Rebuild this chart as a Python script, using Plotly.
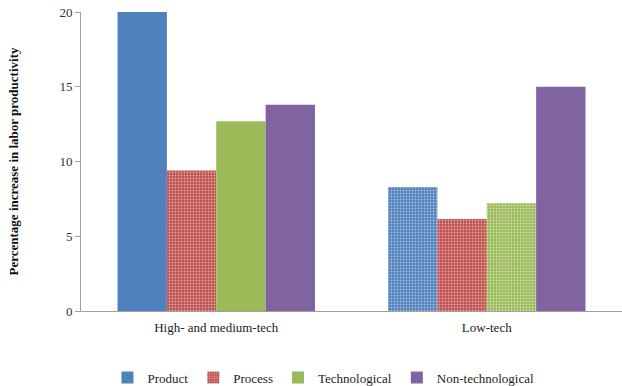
import plotly.graph_objects as go

categories = ["High- and medium-tech", "Low-tech"]
series_names = ["Product", "Process", "Technological", "Non-technological"]
product = [20.0, 8.3]
process = [9.4, 6.15]
technological = [12.7, 7.2]
non_technological = [13.8, 15.0]
y_ticks = [0, 5, 10, 15, 20]

values = [product, process, technological, non_technological]
colors = ["#4F81BD", "#C0504D", "#9BBB59", "#8064A2"]
patterns = [["", "."], [".", "."], ["", "."], ["", ""]]

SERIF = "Times New Roman, Liberation Serif, serif"

fig = go.Figure()
for name, vals, col, pat in zip(series_names, values, colors, patterns):
    fig.add_trace(go.Bar(
        x=categories, y=vals, name=name,
        marker=dict(color=col, line=dict(width=0),
                    pattern=dict(shape=pat, fgcolor="white", size=3,
                                 solidity=0.3, fillmode="overlay")),
    ))

fig.update_layout(
    width=622, height=386,
    margin=dict(l=81, r=0, t=12, b=75),
    paper_bgcolor="white", plot_bgcolor="white",
    barmode="group", bargap=0.27, bargroupgap=0,
    font=dict(family=SERIF, size=13, color="#333333"),
    showlegend=True,
    legend=dict(orientation="h", xref="container", x=0.52, xanchor="center",
                yref="container", y=0.022, yanchor="middle",
                font=dict(family=SERIF, size=13, color="#222222"),
                itemwidth=30, traceorder="normal"),
    xaxis=dict(showline=True, linecolor="#A0A0A0", linewidth=1, ticks="",
               ticklabelstandoff=4, automargin=False,
               tickfont=dict(family=SERIF, size=13, color="#222222"),
               showgrid=False),
    yaxis=dict(range=[0, 20], tickvals=y_ticks, showline=True, linecolor="#A0A0A0",
               linewidth=1, ticks="outside", ticklen=5, tickcolor="#A0A0A0",
               showgrid=False, zeroline=False, automargin=False,
               tickfont=dict(family=SERIF, size=13, color="#333333"),
               title=dict(text="<b>Percentage increase in labor productivity</b>",
                          font=dict(family=SERIF, size=13, color="#111111"),
                          standoff=37)),
)
fig.write_html("out.html")
